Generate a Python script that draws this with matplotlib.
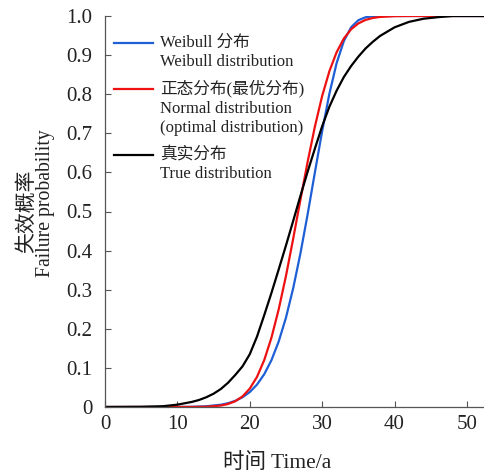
import numpy as np
import matplotlib.pyplot as plt
from matplotlib.lines import Line2D

# curves (time in years, failure probability)
t_weibull = [0, 10, 12, 14, 16, 17, 18, 19, 20, 21, 22, 23, 24, 25, 26, 27, 28,
             29, 30, 31, 32, 33, 34, 35, 36, 37, 38, 40, 52.5]
p_weibull = [0, 0.0001, 0.0005, 0.0019, 0.0058, 0.0097, 0.0158, 0.0249, 0.0382,
             0.0573, 0.0839, 0.1199, 0.1676, 0.2284, 0.3038, 0.3929, 0.4933,
             0.6001, 0.7054, 0.801, 0.8795, 0.9359, 0.9711, 0.9892, 0.9968,
             0.9993, 0.9999, 1.0, 1.0]

t_normal = [0, 12, 14, 16, 17, 18, 19, 20, 21, 22, 23, 24, 25, 26, 27, 28, 29,
            30, 31, 32, 33, 34, 35, 36, 37, 38, 40, 42, 52.5]
p_normal = [0, 0.0001, 0.0007, 0.0037, 0.0077, 0.0148, 0.0271, 0.047, 0.077,
            0.12, 0.1775, 0.25, 0.335, 0.4305, 0.53, 0.6274, 0.7174, 0.7953,
            0.8588, 0.9074, 0.9424, 0.966, 0.981, 0.99, 0.995, 0.9976, 0.9996,
            1.0, 1.0]

t_true = [0, 5, 8, 10, 12, 13, 14, 15, 16, 17, 18, 19, 20, 21, 22, 23, 24, 25,
          26, 27, 28, 29, 30, 31, 32, 33, 34, 35, 36, 37, 38, 40, 42, 44, 46,
          48, 52.5]
p_true = [0, 0.0005, 0.002, 0.006, 0.013, 0.018, 0.025, 0.034, 0.046, 0.062,
          0.082, 0.104, 0.135, 0.18, 0.235, 0.292, 0.352, 0.413, 0.476, 0.54,
          0.602, 0.661, 0.718, 0.768, 0.809, 0.844, 0.872, 0.896, 0.917, 0.934,
          0.949, 0.971, 0.985, 0.993, 0.997, 1.0, 1.0]

legend_lines = [['Weibull 分布', 'Weibull distribution'],
                ['正态分布(最优分布)', 'Normal distribution', '(optimal distribution)'],
                ['真实分布', 'True distribution']]
colors = ['#1f5fd6', '#ee1111', '#000000']

xticks = [0, 10, 20, 30, 40, 50]
yticks = [0, 0.1, 0.2, 0.3, 0.4, 0.5, 0.6, 0.7, 0.8, 0.9, 1.0]

fam = ['Liberation Serif', 'Noto Sans CJK SC']
plt.rcParams['font.family'] = fam
tc = '#222222'

fig = plt.figure(figsize=(4.85, 4.75), dpi=100)
ax = fig.add_axes([105/485, (475-407)/475, 380/485, 391/475])

ax.plot(t_weibull, p_weibull, color=colors[0], lw=1.6)
ax.plot(t_normal, p_normal, color=colors[1], lw=1.6)
ax.plot(t_true, p_true, color=colors[2], lw=1.6)

ax.set_xlim(0, 52.5)
ax.set_ylim(0, 1.0)
ax.set_xticks(xticks)
ax.set_yticks(yticks)
ax.set_yticklabels(['0'] + ['%.1f' % v for v in yticks[1:]])
ax.tick_params(direction='in', length=4, width=0.8, colors='#555555',
               labelcolor=tc, labelsize=15)
ax.tick_params(axis='x', pad=6)
ax.tick_params(axis='y', pad=9)
for s in ['top', 'right']:
    ax.spines[s].set_visible(False)
for s in ['left', 'bottom']:
    ax.spines[s].set_color('#555555')
    ax.spines[s].set_linewidth(0.9)

# legend drawn by hand so the line sits on the first text row
rows = [[43, 62], [89, 109, 128], [155, 174]]
for col, labs, ys in zip(colors, legend_lines, rows):
    yl = (407 - ys[0]) / 391
    ax.add_line(Line2D([9/380, 48/380], [yl, yl], color=col, lw=1.6,
                       transform=ax.transAxes))
    for lab, yy in zip(labs, ys):
        ax.text(55/380, (407 - yy) / 391, lab, transform=ax.transAxes,
                ha='left', va='center', fontsize=12, color=tc, family=fam)

fig.text(277/485, 1 - 463/475, '时间 Time/a', ha='center', va='center',
         fontsize=15.5, color=tc, family=fam)
fig.text(27/485, 1 - 211/475, '失效概率', rotation=90, ha='center',
         va='center', fontsize=15, color=tc, family=fam)
fig.text(46/485, 1 - 203/475, 'Failure probability', rotation=90,
         ha='center', va='center', fontsize=14.2, color=tc, family=fam)

fig.savefig('out.png', dpi=100)
